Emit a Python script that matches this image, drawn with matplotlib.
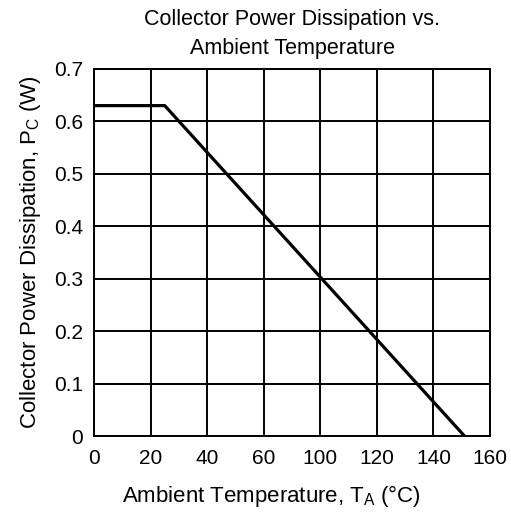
import numpy as np
import matplotlib.pyplot as plt

plt.rcParams['font.family'] = ['Liberation Sans', 'DejaVu Sans']
plt.rcParams['mathtext.default'] = 'regular'

# axis as printed on the datasheet (note: no "80" label)
x_tick_labels = ['0', '20', '40', '60', '100', '120', '140', '160']
x_tick_values = [0, 20, 40, 60, 100, 120, 140, 160]
y_ticks = [0, 0.1, 0.2, 0.3, 0.4, 0.5, 0.6, 0.7]
y_tick_labels = ['0', '0.1', '0.2', '0.3', '0.4', '0.5', '0.6', '0.7']

# derating curve in printed-label units
temp = [0, 25, 151]
power = [0.63, 0.63, 0.0]

# printed labels sit on evenly spaced grid lines
pos = np.arange(len(x_tick_values))
temp_pos = np.interp(temp, x_tick_values, pos)

fig = plt.figure(figsize=(5.11, 5.18), dpi=100)
ax = fig.add_axes([0.184, 0.158, 0.775, 0.709])

ax.plot(temp_pos, power, color='black', lw=2.3, solid_capstyle='butt', clip_on=False)

ax.set_xlim(0, pos[-1])
ax.set_ylim(0, 0.7)
ax.set_xticks(pos)
ax.set_xticklabels(x_tick_labels)
ax.set_yticks(y_ticks)
ax.set_yticklabels(y_tick_labels)
ax.tick_params(length=0, labelsize=15)
ax.tick_params(axis='x', pad=9)
ax.tick_params(axis='y', pad=8)
ax.grid(True, color='black', lw=1.4)
for s in ax.spines.values():
    s.set_linewidth(1.4)

ax.set_title('Collector Power Dissipation vs.\nAmbient Temperature', fontsize=15.5, pad=11, linespacing=1.45)
ax.set_xlabel('Ambient Temperature, T$_\\mathregular{A}$ (°C)', fontsize=16, labelpad=11)
ax.xaxis.label.set_x(0.447)
ax.set_ylabel('Collector Power Dissipation, P$_\\mathregular{C}$ (W)', fontsize=16, labelpad=8)

fig.savefig('out.png', dpi=100)
